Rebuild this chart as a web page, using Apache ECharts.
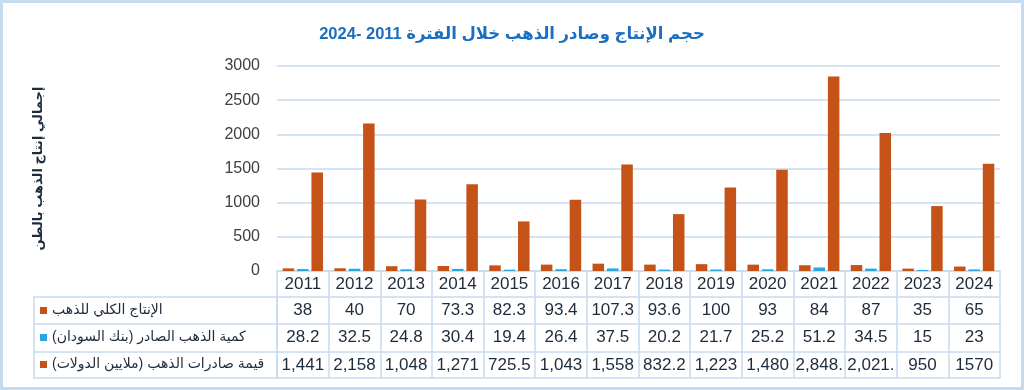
<!DOCTYPE html>
<html>
<head>
<meta charset="utf-8">
<script src="https://cdn.jsdelivr.net/npm/echarts@6/dist/echarts.min.js"></script>
<style>
html,body{margin:0;padding:0;background:#fff;}
#chart{width:1024px;height:390px;}
</style>
</head>
<body>
<div id="chart"></div>
<script>
const RLM = '\u200F';
const years = ['2011','2012','2013','2014','2015','2016','2017','2018','2019','2020','2021','2022','2023','2024'];
const prodTotal = [38,40,70,73.3,82.3,93.4,107.3,93.6,100,93,84,87,35,65];
const exportQty = [28.2,32.5,24.8,30.4,19.4,26.4,37.5,20.2,21.7,25.2,51.2,34.5,15,23];
const exportVal = [1441,2158,1048,1271,725.5,1043,1558,832.2,1223,1480,2848,2021,950,1570];
const exportValLabels = ['1,441','2,158','1,048','1,271','725.5','1,043','1,558','832.2','1,223','1,480','2,848.','2,021.','950','1570'];
const seriesNames = [
  RLM + 'الإنتاج الكلي للذهب' + RLM,
  RLM + 'كمية الذهب الصادر (بنك السودان)' + RLM,
  RLM + 'قيمة صادرات الذهب (ملايين الدولات)' + RLM
];
const titleText = RLM + 'حجم الإنتاج وصادر الذهب خلال الفترة 2011 -2024' + RLM;
const yAxisName = RLM + 'إجمالي إنتاج الذهب بالطن' + RLM;

const FONT = '"Liberation Sans", Arial, "DejaVu Sans", sans-serif';
const LINE = '#c6dbf1';
const TXT = '#1e2b3c';
const BROWN = '#C55217';
const BLUE = '#29A6E0';

function tableAxis(offset, tickLen, formatter) {
  return {
    type: 'category', data: years, gridIndex: 0, position: 'bottom', offset: offset,
    axisLine: { show: true, lineStyle: { color: LINE, width: 1.5 } },
    axisTick: { show: tickLen > 0, interval: 0, length: tickLen, lineStyle: { color: LINE, width: 1.5 } },
    axisLabel: formatter ? { show: true, interval: 0, margin: 5, fontSize: 17, color: TXT, fontFamily: FONT, formatter: formatter } : { show: false },
    splitLine: { show: false }
  };
}

const chart = echarts.init(document.getElementById('chart'), null, { renderer: 'canvas' });
chart.setOption({
  animation: false,
  backgroundColor: '#fff',
  title: {
    text: titleText, left: 'center', top: 21,
    textStyle: { fontSize: 16.5, fontWeight: 'bold', color: '#1a6fc0', fontFamily: FONT }
  },
  legend: {
    orient: 'vertical', left: 40, top: 297, padding: 0, itemGap: 0,
    itemWidth: 7, itemHeight: 7, icon: 'rect',
    data: seriesNames,
    textStyle: { fontSize: 14, lineHeight: 27, color: TXT, fontFamily: FONT }
  },
  grid: { left: 277, right: 24, top: 66, bottom: 119, containLabel: false },
  xAxis: [
    tableAxis(0, 25, (v) => v),
    tableAxis(26, 27, (v, i) => String(prodTotal[i])),
    tableAxis(53, 28, (v, i) => String(exportQty[i])),
    tableAxis(81, 26, (v, i) => exportValLabels[i]),
    tableAxis(107, 0, null)
  ],
  yAxis: {
    type: 'value', min: 0, max: 3000, interval: 500,
    name: yAxisName, nameLocation: 'middle', nameRotate: 90, nameGap: 232,
    nameTextStyle: { fontSize: 13, fontWeight: 'bold', color: TXT, fontFamily: FONT },
    axisLine: { show: false }, axisTick: { show: false },
    axisLabel: { fontSize: 16, color: '#404040', margin: 17, fontFamily: FONT, formatter: (v) => String(v) },
    splitLine: { lineStyle: { color: LINE, width: 1.5 } }
  },
  series: [
    { name: seriesNames[0], type: 'bar', data: prodTotal, itemStyle: { color: BROWN }, barGap: '25%', barCategoryGap: '22%' },
    { name: seriesNames[1], type: 'bar', data: exportQty, itemStyle: { color: BLUE }, barGap: '25%', barCategoryGap: '22%' },
    { name: seriesNames[2], type: 'bar', data: exportVal, itemStyle: { color: BROWN }, barGap: '25%', barCategoryGap: '22%' }
  ],
  graphic: [
    { type: 'rect', silent: true, shape: { x: 34, y: 297, width: 243, height: 81 }, style: { fill: 'none', stroke: LINE, lineWidth: 1.5 } },
    { type: 'line', silent: true, shape: { x1: 34, y1: 324, x2: 277, y2: 324 }, style: { stroke: LINE, lineWidth: 1.5 } },
    { type: 'line', silent: true, shape: { x1: 34, y1: 352, x2: 277, y2: 352 }, style: { stroke: LINE, lineWidth: 1.5 } },
    { type: 'rect', silent: true, shape: { x: 1.5, y: 1.5, width: 1021, height: 387 }, style: { fill: 'none', stroke: '#c5dcf0', lineWidth: 3 } }
  ]
});
</script>
</body>
</html>
